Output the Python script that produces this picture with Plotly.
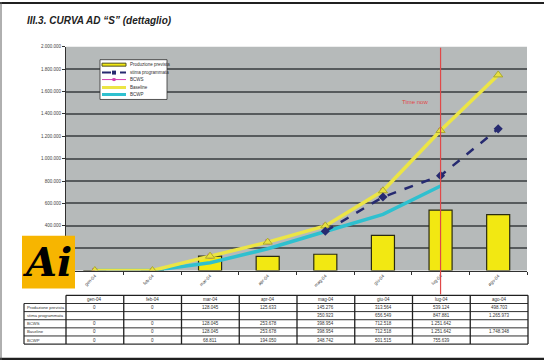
import plotly.graph_objects as go

months = ["gen-04", "feb-04", "mar-04", "apr-04", "mag-04", "giu-04", "lug-04", "ago-04"]
produzione_prevista = [0, 0, 128045, 125633, 145276, 313564, 539124, 498703]
stima_programmata = [None, None, None, None, 350923, 656549, 847881, 1265973]
bcws = [0, 0, 128045, 253678, 398954, 712518, 1251642, None]
baseline = [0, 0, 128045, 253678, 398954, 712518, 1251642, 1748348]
bcwp = [0, 0, 68811, 194050, 348742, 501515, 755639, None]
y_ticks = [0, 200000, 400000, 600000, 800000, 1000000, 1200000, 1400000, 1600000, 1800000, 2000000]
# the two lowest tick labels are covered by the logo in the reference
y_tick_labels = ["", "", "400.000", "600.000", "800.000", "1.000.000", "1.200.000", "1.400.000",
                 "1.600.000", "1.800.000", "2.000.000"]
time_now_month = "lug-04"

series_names = ["Produzione prevista", "stima programmata", "BCWS", "Baseline", "BCWP"]
series_vals = [produzione_prevista, stima_programmata, bcws, baseline, bcwp]


def fmt(v):
    if v is None:
        return ""
    return f"{v:,}".replace(",", ".")


W, H = 544, 360
PX0, PX1 = 66, 527
PY0, PY1 = 45, 270


def px(x):
    return x / W


def py(y):
    return 1 - y / H


def text_at(text, x, y, size, color="#333333", xanchor="center", family="Liberation Sans"):
    return dict(text=text, x=px(x), y=py(y), xref="paper", yref="paper", xanchor=xanchor,
                yanchor="middle", showarrow=False, font=dict(size=size, color=color, family=family))


fig = go.Figure()
fig.add_trace(go.Bar(x=months, y=produzione_prevista, width=0.4,
                     marker=dict(color="#f2e812", line=dict(color="#2a2a10", width=1.2)),
                     name=series_names[0]))
fig.add_trace(go.Scatter(x=months, y=bcws, mode="lines+markers", name=series_names[2],
                         line=dict(color="#d040b0", width=1.5),
                         marker=dict(symbol="square", size=5, color="#d040b0")))
fig.add_trace(go.Scatter(x=months, y=bcwp, mode="lines", name=series_names[4],
                         line=dict(color="#2fc0cf", width=3.5)))
fig.add_trace(go.Scatter(x=months, y=baseline, mode="lines+markers", name=series_names[3],
                         line=dict(color="#ece545", width=3.5),
                         marker=dict(symbol="triangle-up", size=8, color="#e8e040",
                                     line=dict(color="#a8a830", width=1))))
fig.add_trace(go.Scatter(x=months, y=stima_programmata, mode="lines+markers", name=series_names[1],
                         line=dict(color="#262a70", width=2.5, dash="dash"),
                         marker=dict(symbol="diamond", size=7, color="#262a70")))

shapes = []
ann = []

# page frame
shapes.append(dict(type="line", xref="paper", yref="paper", x0=0, x1=1, y0=py(1), y1=py(1),
                   line=dict(color="#202020", width=2)))
shapes.append(dict(type="line", xref="paper", yref="paper", x0=0, x1=1, y0=py(359), y1=py(359),
                   line=dict(color="#202020", width=2.5)))
shapes.append(dict(type="line", xref="paper", yref="paper", x0=px(1), x1=px(1), y0=py(0), y1=py(360),
                   line=dict(color="#606060", width=1)))

# time now line
shapes.append(dict(type="line", xref="x", yref="paper", x0=time_now_month, x1=time_now_month,
                   y0=py(294), y1=py(46), line=dict(color="#e04848", width=1.2), layer="above"))
ann.append(text_at("Time now", 415, 101, 6, color="#e04848"))

# legend (manual)
lx0, lx1, ly0, ly1 = 100, 167, 58, 98
shapes.append(dict(type="rect", xref="paper", yref="paper", x0=px(lx0), x1=px(lx1), y0=py(ly1), y1=py(ly0),
                   fillcolor="white", line=dict(color="#303030", width=0.8)))
rows_y = [63, 71, 78, 86, 93]
sx0, sx1 = 102, 126
shapes.append(dict(type="rect", xref="paper", yref="paper", x0=px(sx0), x1=px(sx1), y0=py(rows_y[0] + 1.5),
                   y1=py(rows_y[0] - 1.5), fillcolor="#f2e812", line=dict(color="#505020", width=1)))
shapes.append(dict(type="line", xref="paper", yref="paper", x0=px(sx0), x1=px(sx1), y0=py(rows_y[1]), y1=py(rows_y[1]),
                   line=dict(color="#262a70", width=2, dash="dash")))
shapes.append(dict(type="rect", xref="paper", yref="paper", x0=px(112), x1=px(116), y0=py(rows_y[1] + 2),
                   y1=py(rows_y[1] - 2), fillcolor="#262a70", line=dict(width=0)))
shapes.append(dict(type="line", xref="paper", yref="paper", x0=px(sx0), x1=px(sx1), y0=py(rows_y[2]), y1=py(rows_y[2]),
                   line=dict(color="#d040b0", width=1)))
shapes.append(dict(type="rect", xref="paper", yref="paper", x0=px(112.5), x1=px(115.5), y0=py(rows_y[2] + 1.5),
                   y1=py(rows_y[2] - 1.5), fillcolor="#d040b0", line=dict(width=0)))
shapes.append(dict(type="line", xref="paper", yref="paper", x0=px(sx0), x1=px(sx1), y0=py(rows_y[3]), y1=py(rows_y[3]),
                   line=dict(color="#ece545", width=3)))
shapes.append(dict(type="line", xref="paper", yref="paper", x0=px(sx0), x1=px(sx1), y0=py(rows_y[4]), y1=py(rows_y[4]),
                   line=dict(color="#2fc0cf", width=3)))
for name, yy in zip(series_names, rows_y):
    ann.append(text_at(name, 128, yy, 4.5, color="#303030", xanchor="left"))

# logo
shapes.append(dict(type="rect", xref="paper", yref="paper", x0=px(22), x1=px(75), y0=py(288), y1=py(235),
                   fillcolor="#f7b500", line=dict(width=0), layer="above"))
ann.append(text_at("<b><i>Ai</i></b>", 47, 261, 40, color="black", family="DejaVu Serif"))

# title
ann.append(text_at("<b><i>III.3. CURVA AD “S” (dettaglio)</i></b>", 25, 19, 10, color="#222222",
                   xanchor="left"))

# table
tx0 = 24
col_w = (528 - 66) / len(months)
row_edges = [295 + i * (344 - 295) / 6 for i in range(7)]
shapes.append(dict(type="line", xref="paper", yref="paper", x0=px(66), x1=px(528), y0=py(295), y1=py(295),
                   line=dict(color="#202020", width=1.2)))
for r in row_edges[1:]:
    shapes.append(dict(type="line", xref="paper", yref="paper", x0=px(tx0), x1=px(528), y0=py(r), y1=py(r),
                       line=dict(color="#303030", width=1 if r not in (row_edges[1], row_edges[-1]) else 1.2)))
shapes.append(dict(type="line", xref="paper", yref="paper", x0=px(tx0), x1=px(tx0), y0=py(row_edges[1]),
                   y1=py(344), line=dict(color="#202020", width=1.2)))
for i in range(len(months) + 1):
    xx = 66 + i * col_w
    shapes.append(dict(type="line", xref="paper", yref="paper", x0=px(xx), x1=px(xx), y0=py(295), y1=py(344),
                       line=dict(color="#202020", width=1.3)))
for i, m in enumerate(months):
    xc = 66 + (i + 0.5) * col_w
    ann.append(text_at(m, xc, (row_edges[0] + row_edges[1]) / 2, 4.5))
for r, (name, vals) in enumerate(zip(series_names, series_vals)):
    yc = (row_edges[r + 1] + row_edges[r + 2]) / 2
    ann.append(text_at(name, 25, yc, 4.2, xanchor="left"))
    for i, v in enumerate(vals):
        if v is None:
            continue
        xc = 66 + (i + 0.5) * col_w
        ann.append(text_at(fmt(v), xc, yc, 4.5))

fig.update_layout(
    width=W, height=H, margin=dict(l=0, r=0, t=0, b=0),
    paper_bgcolor="white", plot_bgcolor="#b6baba",
    showlegend=False, shapes=shapes, annotations=ann,
)
fig.update_xaxes(domain=[px(PX0), px(PX1)], type="category", range=[-0.5, 7.5],
                 showline=True, linecolor="#303030", linewidth=1.2, ticks="outside", ticklen=3,
                 tickson="boundaries", tickcolor="#303030", tickangle=-45,
                 tickfont=dict(size=4.5, color="#444444", family="Liberation Sans"), showgrid=False)
fig.update_yaxes(domain=[py(PY1), py(PY0)], range=[0, 2000000], tickvals=y_ticks,
                 ticktext=y_tick_labels, showline=True, linecolor="#303030", linewidth=1.2,
                 ticks="outside", ticklen=3, tickcolor="#303030",
                 tickfont=dict(size=4.5, color="#444444", family="Liberation Sans"),
                 gridcolor="#575b5d", gridwidth=1.5, zeroline=False)

fig.write_html("out.html", config={"displayModeBar": False},
               post_script="document.body.style.margin='0';document.body.style.overflow='hidden';")
